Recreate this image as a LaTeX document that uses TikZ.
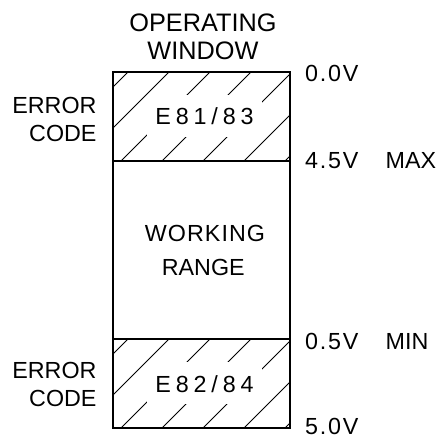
\documentclass[tikz,border=0pt]{standalone}
\usepackage{fontspec}
\setmainfont{Liberation Sans}
\newfontfamily\lblfont{Liberation Sans}
\newfontfamily\numfont{Liberation Sans}[LetterSpace=7.5]
\newfontfamily\codefont{Liberation Sans}[LetterSpace=21]
\newfontfamily\wrkfont{Liberation Sans}[LetterSpace=4.5]
\tikzset{
  boxline/.style={line width=1.2pt},
  hatchline/.style={line width=0.9pt},
  sect/.style={draw, boxline, inner sep=0pt, outer sep=0pt, minimum width=177pt, anchor=north west},
  lbl/.style={inner sep=0pt, font=\lblfont\fontsize{23.3}{28}\selectfont},
  ttl/.style={inner sep=0pt, font=\lblfont\fontsize{25.3}{30}\selectfont},
  numlbl/.style={inner sep=0pt, font=\numfont\fontsize{23.3}{28}\selectfont},
  codelbl/.style={inner sep=0pt, font=\codefont\fontsize{23.3}{28}\selectfont},
  wrklbl/.style={inner sep=0pt, font=\wrkfont\fontsize{23.3}{28}\selectfont},
}
\begin{document}
\begin{tikzpicture}[x=1pt, y=-1pt, line join=miter]
\useasboundingbox (0,0) rectangle (440,438);
% hatching of the two error bands
\foreach \o in {0,267}{
  \begin{scope}
    \clip (113,72+\o) rectangle (290,161+\o);
    \foreach \c in {200,241,282,323,364,405,446}{
      \draw[hatchline] ({\c-60},{60+\o}) -- ({\c-175},{175+\o});
    }
  \end{scope}
  \fill[white] (147,95+\o) rectangle (262,137+\o);
}
% bands
\node[sect, minimum height=89pt] (err1) at (113,72) {};
\node[sect, minimum height=178pt] (work) at (113,161) {};
\node[sect, minimum height=89pt] (err2) at (113,339) {};
% texts
\node[ttl, anchor=base] (ttla) at (203,31.7) {OPERATING};
\node[ttl, anchor=base] (ttlb) at (203,60) {WINDOW};
\node[lbl, anchor=base east] (ec1a) at (96.7,113.3) {ERROR};
\node[lbl, anchor=base east] (ec1b) at (96.7,141.7) {CODE};
\node[lbl, anchor=base east] (ec2a) at (96.7,378.3) {ERROR};
\node[lbl, anchor=base east] (ec2b) at (96.7,406.7) {CODE};
\node[codelbl, anchor=base] (e1) at (204.5,125) {E81/83};
\node[codelbl, anchor=base] (e2) at (204.5,392.5) {E82/84};
\node[wrklbl, anchor=base] (wr1) at (205,241.7) {WORKING};
\node[lbl, anchor=base] (wr2) at (203.3,276) {RANGE};
\node[numlbl, anchor=base west] (v1) at (305,81.7) {0.0V};
\node[numlbl, anchor=base west] (v2) at (305,168.3) {4.5V};
\node[lbl, anchor=base west] (mx) at (385.5,168.3) {MAX};
\node[numlbl, anchor=base west] (v3) at (305,350) {0.5V};
\node[lbl, anchor=base west] (mn) at (385.5,350) {MIN};
\node[numlbl, anchor=base west] (v4) at (305,434.7) {5.0V};
\end{tikzpicture}
\end{document}
